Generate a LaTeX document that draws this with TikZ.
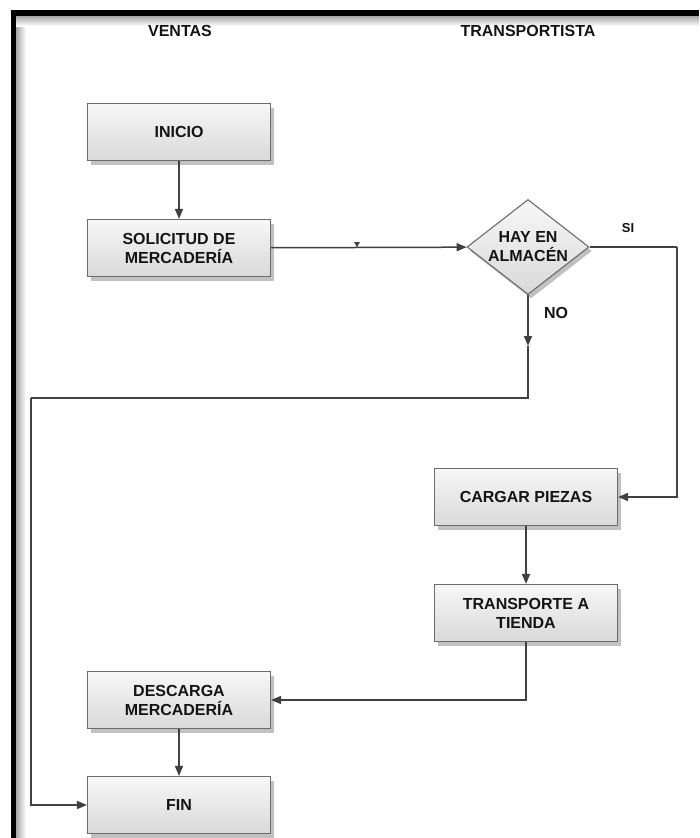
\documentclass[tikz,border=0pt]{standalone}
\usepackage{fontspec}
\setmainfont{Liberation Sans}
\usetikzlibrary{shapes.geometric,arrows.meta,shadows}

\definecolor{txt}{HTML}{141414}
\definecolor{boxline}{HTML}{6C6C6C}
\definecolor{conn}{HTML}{404040}

\tikzset{
  x=1pt, y=-1pt,
  stepbox/.style={draw=boxline, line width=1.1pt, rectangle,
    top color=white!97!black, bottom color=black!15,
    minimum width=183pt, minimum height=57pt, inner sep=0pt,
    align=center, font=\fontsize{16}{19}\selectfont\bfseries, text=txt,
    drop shadow={shadow xshift=3pt, shadow yshift=-4pt, opacity=0.4, fill=black!60}},
  decision/.style={draw=boxline, line width=1.1pt, diamond, aspect=1.29,
    top color=white!97!black, bottom color=black!15,
    minimum width=122pt, minimum height=95pt, inner sep=0pt,
    align=center, font=\fontsize{16}{19}\selectfont\bfseries, text=txt,
    drop shadow={shadow xshift=3pt, shadow yshift=-4pt, opacity=0.4, fill=black!60}},
  lane/.style={font=\fontsize{16}{19}\selectfont\bfseries, text=txt},
  tag/.style={font=\bfseries, text=txt},
  wire/.style={draw=conn, line width=1.5pt},
  flow/.style={wire, -{Triangle[length=10pt,width=8pt]}},
}

\begin{document}
\begin{tikzpicture}
\useasboundingbox (0,0) rectangle (699,838);
\fill[white] (0,0) rectangle (699,838);

% frame: heavy left and top rules with a soft inner shade
\shade[left color=black!35, right color=white] (16,16) rectangle (26,838);
\shade[top color=black!35, bottom color=white] (16,16) rectangle (699,26);
\fill[black] (11,10) rectangle (16,838);
\fill[black] (11,10) rectangle (699,16);

% lane headers
\node[lane] (hv) at (180,31) {VENTAS};
\node[lane] (ht) at (528,31) {TRANSPORTISTA};

% process steps
\node[stepbox] (inicio) at (179,132) {INICIO};
\node[stepbox] (sol) at (179,248) {SOLICITUD DE\\MERCADERÍA};
\node[decision] (dec) at (528,247) {HAY EN\\ALMACÉN};
\node[stepbox] (carg) at (526,497) {CARGAR PIEZAS};
\node[stepbox] (trans) at (526,613) {TRANSPORTE A\\TIENDA};
\node[stepbox] (desc) at (179,700) {DESCARGA\\MERCADERÍA};
\node[stepbox] (fin) at (179,805) {FIN};

% routing points
\coordinate (siTurn) at (677,247);
\coordinate (noTip) at (528,346);
\coordinate (noTurn) at (528,398);
\coordinate (leftRun) at (31,398);

% connectors
\draw[flow] (inicio) -- (sol);
\draw[flow] (sol) -- (dec);
\fill[conn] (354,242) -- (360,242) -- (357,247) -- cycle;
\draw[wire] (dec.east) -- (siTurn);
\draw[flow] (siTurn) |- (carg.east);
\draw[flow] (dec.south) -- (noTip);
\draw[wire] (noTip) -- (noTurn) -- (leftRun);
\draw[flow] (leftRun) |- (fin.west);
\draw[flow] (carg) -- (trans);
\draw[flow] (trans.south) |- (desc.east);
\draw[flow] (desc) -- (fin);

% branch labels
\node[tag, font=\fontsize{13}{15}\selectfont\bfseries] (si) at (628,228) {SI};
\node[tag, font=\fontsize{16}{19}\selectfont\bfseries] (no) at (556,313) {NO};
\end{tikzpicture}
\end{document}
